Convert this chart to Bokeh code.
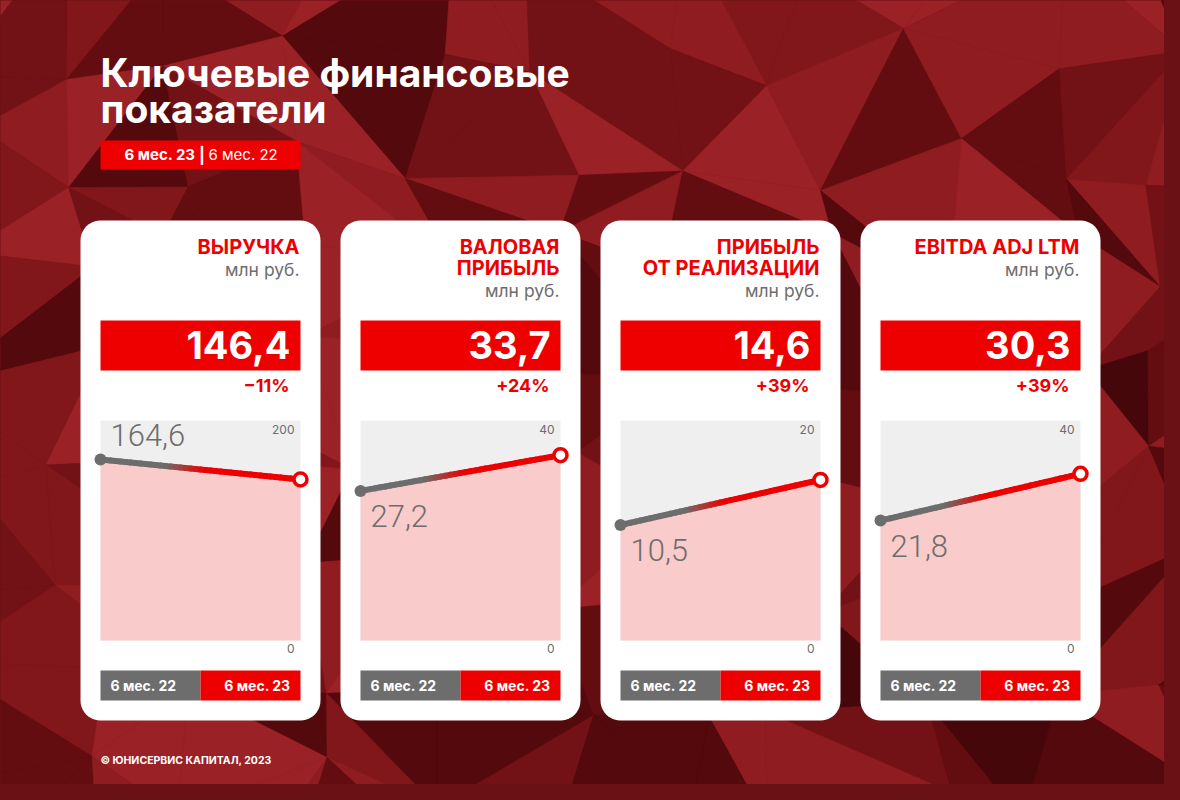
import math
from bokeh.plotting import figure
from bokeh.models import Range1d
from bokeh.core.properties import value
from bokeh.embed import file_html
from bokeh.resources import INLINE

# ---------------- data ----------------
titles = [["ВЫРУЧКА"], ["ВАЛОВАЯ", "ПРИБЫЛЬ"], ["ПРИБЫЛЬ", "ОТ РЕАЛИЗАЦИИ"], ["EBITDA ADJ LTM"]]
units = "млн руб."
prev_values = [164.6, 27.2, 10.5, 21.8]   # 6 мес. 22
curr_values = [146.4, 33.7, 14.6, 30.3]   # 6 мес. 23
changes = ["\u221211%", "+24%", "+39%", "+39%"]
axis_max = [200, 40, 20, 40]
periods = ["6 мес. 22", "6 мес. 23"]
prev_label_above = [True, False, False, False]
main_title = ["Ключевые финансовые", "показатели"]
footer = "© ЮНИСЕРВИС КАПИТАЛ, 2023"

# ---------------- style ----------------
RED = "#ee0000"
GRAY = "#6d6d6d"
PINK = "#f9cbcb"
LIGHT = "#efefef"
FONT = value("Inter")
BG = "#6a1115"

W, H = 1164, 784
BASE = 0.38  # baseline correction (em)

p = figure(width=W, height=H, output_backend="svg", toolbar_location=None,
           x_range=Range1d(0, W), y_range=Range1d(H, 0),
           x_axis_location=None, y_axis_location=None, min_border=0)
p.grid.visible = False
p.outline_line_color = None
p.background_fill_color = BG
p.border_fill_color = BG


def T(x, y, text, size, color, bold=False, align="left", font=FONT, dy=0, **kw):
    p.text(x=x if isinstance(x, list) else [x], y=y if isinstance(y, list) else [y],
           text=text if isinstance(text, list) else [text],
           y_offset=dy - BASE * size, text_font=font, text_font_size=f"{size}px",
           text_font_style="bold" if bold else "normal", text_color=color,
           text_align=align, text_baseline="alphabetic", **kw)


# ---------------- low-poly background (decoration) ----------------
def hsh(a, b, c):
    s = math.sin(a * 127.1 + b * 311.7 + c * 74.7) * 43758.5453
    return s - math.floor(s)

nx, ny = 11, 9
pts = {}
for i in range(nx + 1):
    for j in range(ny + 1):
        pts[(i, j)] = (-50 + i * 122 + (hsh(i, j, 1) - 0.5) * 80,
                       -50 + j * 105 + (hsh(i, j, 2) - 0.5) * 70)
shades = ["#45070a", "#54090d", "#630d11", "#721216", "#81171b", "#8e1c20", "#9a2126"]
bx, by, bc = [], [], []
for i in range(nx):
    for j in range(ny):
        a, b, c, d = pts[(i, j)], pts[(i + 1, j)], pts[(i + 1, j + 1)], pts[(i, j + 1)]
        tris = [(a, b, c), (a, c, d)] if hsh(i, j, 3) > 0.5 else [(a, b, d), (b, c, d)]
        for k, t in enumerate(tris):
            r = hsh(i, j, 4 + k)
            cx = sum(q[0] for q in t) / 3
            cy = sum(q[1] for q in t) / 3
            dark = 0.7 * (cx / 1180) + 0.7 * (cy / 800)
            idx = int(round(r * 6.0 + 1.8 - dark * 1.8))
            idx = min(len(shades) - 1, max(0, idx))
            bx.append([q[0] for q in t])
            by.append([q[1] for q in t])
            bc.append(shades[idx])
p.patches(bx, by, fill_color=bc, line_color=bc, line_width=0.6)

# ---------------- header ----------------
T(100, 87, main_title[0], 39, "white", bold=True)
T(100, 123, main_title[1], 39, "white", bold=True)
p.quad(left=[100], right=[300], top=[140], bottom=[169], fill_color=RED, line_color=None)
T(195, 160, periods[1], 15, "white", bold=True, align="right")
T(201.5, 161, "|", 16, "white", bold=True, align="center")
T(208, 160, periods[0], 15, "white", align="left")
T(100, 764, footer, 10.5, "white", bold=True)

# ---------------- cards ----------------
def rounded(x0, y0, x1, y1, r, n=10):
    xs, ys = [], []
    for cx, cy, a0 in [(x1 - r, y0 + r, -90), (x1 - r, y1 - r, 0), (x0 + r, y1 - r, 90), (x0 + r, y0 + r, 180)]:
        for k in range(n + 1):
            a = math.radians(a0 + 90 * k / n)
            xs.append(cx + r * math.cos(a))
            ys.append(cy + r * math.sin(a))
    return xs, ys

cxs, cys = [], []
for i in range(4):
    L = 80 + 260 * i
    xs, ys = rounded(L, 220, L + 240, 720, 20)
    cxs.append(xs)
    cys.append(ys)
p.patches(cxs, cys, fill_color="white", line_color=None)


def blend(t):
    s = min(1.0, max(0.0, (t - 0.33) / 0.2))
    r = int(109 + (238 - 109) * s)
    g = int(109 * (1 - s))
    return "#%02x%02x%02x" % (r, g, g)


for i in range(4):
    L = 80 + 260 * i        # card left
    CL = L + 20             # chart left
    R = L + 219             # right text edge
    ymax = axis_max[i]
    xr, yr = f"x{i}", f"y{i}"
    p.extra_x_ranges[xr] = Range1d((0 - CL) / 200.0, (W - CL) / 200.0)
    p.extra_y_ranges[yr] = Range1d((640 - H) * ymax / 220.0, (640 - 0) * ymax / 220.0)

    # titles
    lines = titles[i]
    for k, t in enumerate(lines):
        T(R, 254 + 21.5 * k, t, 20, RED, bold=True, align="right")
    T(R, 254 + 21.5 * len(lines), units, 17.5, GRAY, align="right")

    # big value box
    p.quad(left=[CL], right=[CL + 200], top=[320], bottom=[370], fill_color=RED, line_color=None)
    T(CL + 190, 359, f"{curr_values[i]:.1f}".replace(".", ","), 38, "white", bold=True, align="right")
    T(CL + 189, 392, changes[i], 18, RED, bold=True, align="right")

    # chart
    kw = dict(x_range_name=xr, y_range_name=yr)
    p.quad(left=[0], right=[1], bottom=[0], top=[ymax], fill_color=LIGHT, line_color=None, **kw)
    p.varea(x=[0, 1], y1=[0, 0], y2=[prev_values[i], curr_values[i]], fill_color=PINK, **kw)

    N = 40
    y0v, y1v = prev_values[i], curr_values[i]
    sx0 = [k / N for k in range(N)]
    sx1 = [(k + 1) / N for k in range(N)]
    sy0 = [y0v + (y1v - y0v) * t for t in sx0]
    sy1 = [y0v + (y1v - y0v) * t for t in sx1]
    scol = [blend((a + b) / 2) for a, b in zip(sx0, sx1)]
    p.segment(x0=sx0, y0=sy0, x1=sx1, y1=sy1, line_color=scol, line_width=6, line_cap="round", **kw)
    p.scatter(x=[0], y=[y0v], size=12, fill_color=GRAY, line_color=None, **kw)
    p.scatter(x=[1], y=[y1v], size=13, fill_color="white", line_color=RED, line_width=3.5, **kw)

    # axis labels
    T(1, ymax, str(ymax), 12, GRAY, align="right", dy=14, x_offset=-6, **kw)
    T(1, 0, "0", 12, GRAY, align="right", dy=13, x_offset=-6, **kw)

    # previous value label
    T(0, y0v, f"{y0v:.1f}".replace(".", ","), 31, GRAY, font=value("Roboto Light"),
      dy=(-13 if prev_label_above[i] else 37), x_offset=10, **kw)

    # period bar
    p.quad(left=[0, 0.5], right=[0.5, 1], top=[670, 670], bottom=[700, 700],
           fill_color=[GRAY, RED], line_color=None, x_range_name=xr)
    T(0, 690, periods[0], 14, "white", bold=True, align="left", x_offset=10, x_range_name=xr)
    T(1, 690, periods[1], 14, "white", bold=True, align="right", x_offset=-10, x_range_name=xr)

html = file_html(p, INLINE)
html = html.replace("</head>", "<style>html,body{background-color:%s;}</style></head>" % BG, 1)
open("out.html", "w").write(html)
